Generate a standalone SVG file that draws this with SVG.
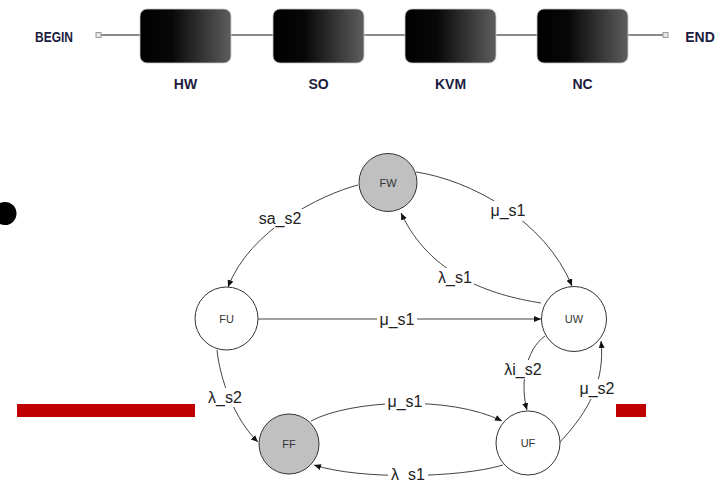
<svg xmlns="http://www.w3.org/2000/svg" width="725" height="482" viewBox="0 0 725 482">
  <defs>
    <linearGradient id="boxFill" x1="0" y1="0" x2="1" y2="0">
      <stop offset="0" stop-color="#000"/>
      <stop offset="0.35" stop-color="#080808"/>
      <stop offset="1" stop-color="#5e5e5e"/>
    </linearGradient>
    <marker id="arrow" markerUnits="userSpaceOnUse" markerWidth="8" markerHeight="7" refX="7" refY="3" orient="auto">
      <path d="M0,0 L7,3 L0,6 z" fill="#111"/>
    </marker>
    <style>
      .stage { fill: url(#boxFill); stroke: #c8c8c8; stroke-width: 0.8; }
      .flowtxt { font-family: "Liberation Sans", Arial, sans-serif; font-weight: bold; font-size: 14px; fill: #1c1c3e; text-anchor: middle; }
      .wire { stroke: #8a8a8a; stroke-width: 2; fill: none; }
      .port { fill: #e6e6e6; stroke: #9a9a9a; stroke-width: 1; }
      .state { stroke: #333; stroke-width: 1; fill: #fff; }
      .state.fail { fill: #c0c0c0; }
      .stxt { font-family: "Liberation Sans", Arial, sans-serif; font-size: 11px; fill: #333; text-anchor: middle; }
      .edge { stroke: #444; stroke-width: 1; fill: none; marker-end: url(#arrow); }
      .lblbg { fill: #fff; }
      .elbl { font-family: "Liberation Sans", Arial, sans-serif; font-size: 16px; fill: #222; text-anchor: middle; }
      .bar { fill: #c00000; }
    </style>
  </defs>

  <rect width="725" height="482" fill="#fff"/>

  <!-- pipeline: connectors -->
  <g id="flow-connectors">
    <line class="wire" x1="101" y1="35" x2="140" y2="35"/>
    <line class="wire" x1="231" y1="35" x2="273" y2="35"/>
    <line class="wire" x1="364" y1="35" x2="405" y2="35"/>
    <line class="wire" x1="496" y1="35" x2="537" y2="35"/>
    <line class="wire" x1="628" y1="35" x2="663" y2="35"/>
    <rect class="port" x="96" y="32.5" width="5" height="5"/>
    <rect class="port" x="663" y="32.5" width="5" height="5"/>
  </g>

  <!-- pipeline: stages -->
  <g id="begin"><text class="flowtxt" x="54" y="42" font-size="15" textLength="38" lengthAdjust="spacingAndGlyphs">BEGIN</text></g>
  <g id="hw"><rect class="stage" x="140" y="9" width="91" height="54" rx="7"/><text class="flowtxt" x="185.5" y="89">HW</text></g>
  <g id="so"><rect class="stage" x="273" y="9" width="91" height="54" rx="7"/><text class="flowtxt" x="318.5" y="89">SO</text></g>
  <g id="kvm"><rect class="stage" x="405" y="9" width="91" height="54" rx="7"/><text class="flowtxt" x="450.5" y="89">KVM</text></g>
  <g id="nc"><rect class="stage" x="537" y="9" width="91" height="54" rx="7"/><text class="flowtxt" x="582.5" y="89">NC</text></g>
  <g id="end"><text class="flowtxt" x="700" y="42" font-size="15" text-anchor="start">END</text></g>

  <!-- decorations -->
  <circle cx="5" cy="213.5" r="11.5" fill="#000"/>
  <rect class="bar" x="17" y="404" width="178" height="13"/>
  <rect class="bar" x="616" y="404" width="30" height="13"/>

  <!-- state transitions -->
  <g id="transitions">
    <path class="edge" d="M358,185 C320,195 250,230 228,287"/>
    <path class="edge" d="M541,303 C490,295 430,275 401,213"/>
    <path class="edge" d="M416,172 C470,180 545,220 572,286"/>
    <path class="edge" d="M258,319 L541,319"/>
    <path class="edge" d="M545,336 C525,350 520,385 527,410"/>
    <path class="edge" d="M560,442 C590,410 605,380 601,341"/>
    <path class="edge" d="M311,421 C350,400 450,395 502,421"/>
    <path class="edge" d="M503,465 C460,478 360,480 314,465"/>
    <path class="edge" d="M217,350 C220,380 235,420 258,442"/>

    <!-- label backgrounds break the lines under the labels -->
    <rect class="lblbg" x="256" y="209" width="48" height="19"/>
    <rect class="lblbg" x="436" y="268" width="38" height="19"/>
    <rect class="lblbg" x="489" y="201" width="38" height="20"/>
    <rect class="lblbg" x="377" y="310" width="40" height="20"/>
    <rect class="lblbg" x="502" y="360" width="42" height="19"/>
    <rect class="lblbg" x="577" y="379" width="40" height="20"/>
    <rect class="lblbg" x="385" y="392" width="40" height="20"/>
    <rect class="lblbg" x="388" y="465" width="40" height="17"/>
    <rect class="lblbg" x="205" y="388" width="40" height="19"/>

    <text class="elbl" x="280" y="224">sa_s2</text>
    <text class="elbl" x="455" y="283">λ_s1</text>
    <text class="elbl" x="508" y="216">μ_s1</text>
    <text class="elbl" x="397" y="325">μ_s1</text>
    <text class="elbl" x="523" y="375">λi_s2</text>
    <text class="elbl" x="597" y="394">μ_s2</text>
    <text class="elbl" x="405" y="407">μ_s1</text>
    <text class="elbl" x="408" y="480">λ_s1</text>
    <text class="elbl" x="225" y="403">λ_s2</text>
  </g>

  <!-- states -->
  <g id="FW"><circle class="state fail" cx="388" cy="182.5" r="29"/><text class="stxt" x="388" y="186.5">FW</text></g>
  <g id="FU"><circle class="state" cx="226.5" cy="318.5" r="31.5"/><text class="stxt" x="226.5" y="322.5">FU</text></g>
  <g id="UW"><circle class="state" cx="574" cy="319" r="32.5"/><text class="stxt" x="574" y="323">UW</text></g>
  <g id="FF"><circle class="state fail" cx="289" cy="444" r="30"/><text class="stxt" x="289" y="448">FF</text></g>
  <g id="UF"><circle class="state" cx="528" cy="443" r="32"/><text class="stxt" x="528" y="447">UF</text></g>
</svg>
